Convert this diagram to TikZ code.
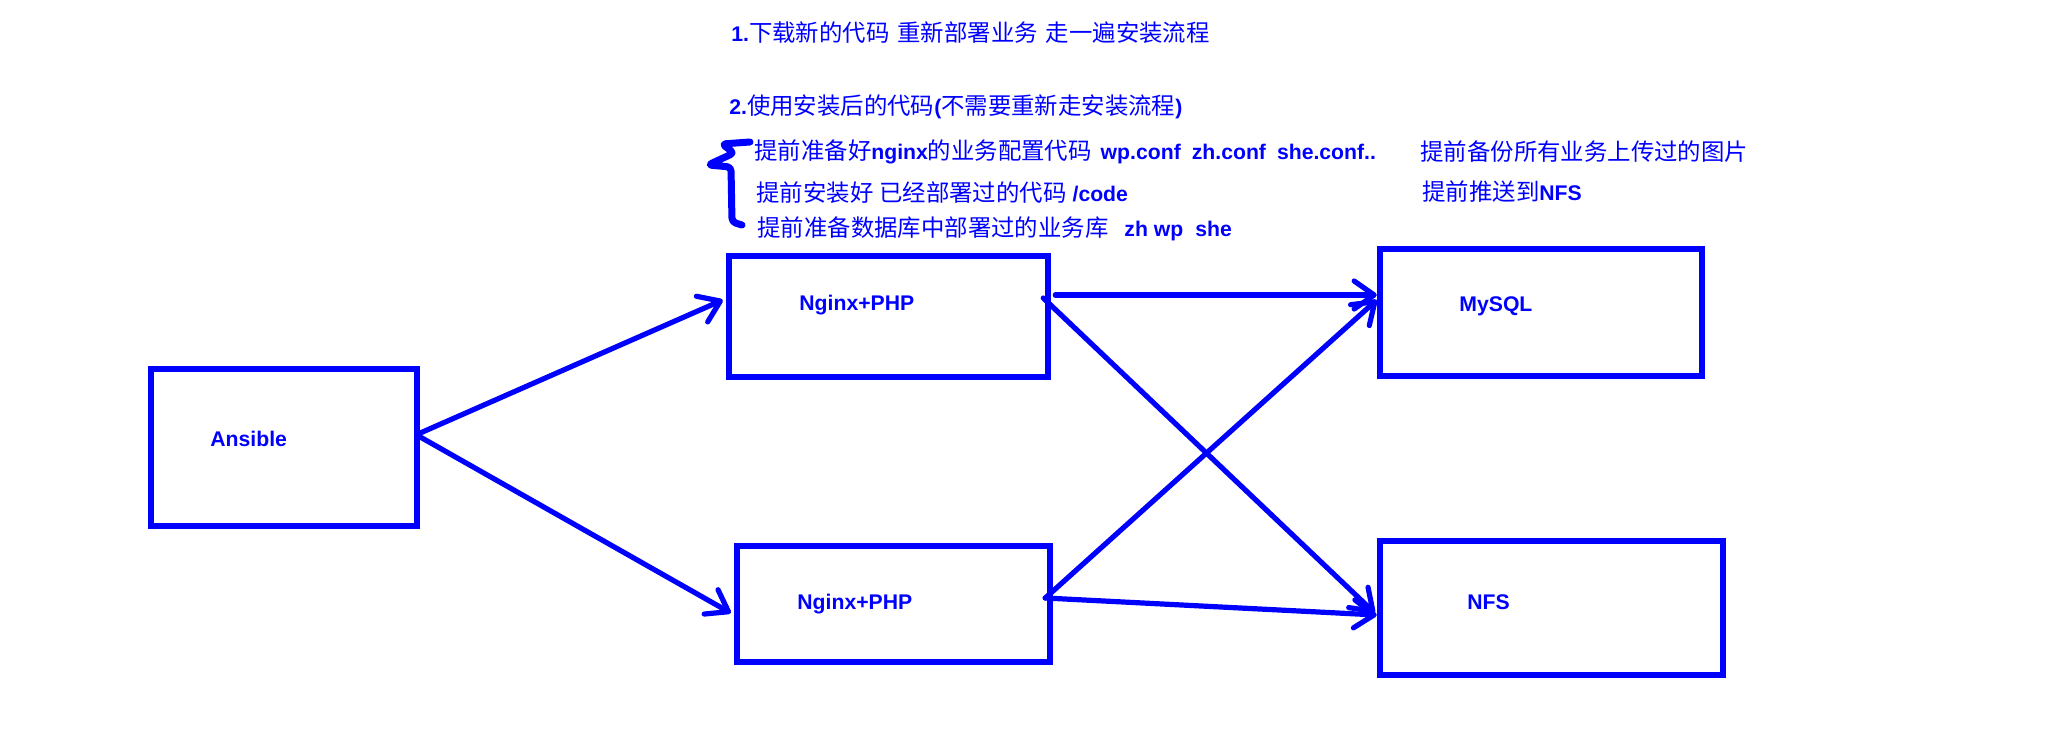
\documentclass[tikz,border=0pt]{standalone}
\usepackage{fontspec}
\setmainfont{Liberation Sans}
\newfontfamily\cjkf{Noto Sans CJK SC}
\usetikzlibrary{arrows.meta}
\definecolor{ink}{RGB}{0,0,255}
\newcommand{\cj}[1]{{\cjkf\mdseries\fontsize{11.7pt}{13pt}\selectfont #1}}
\begin{document}
\begin{tikzpicture}[x=0.5pt,y=-0.5pt,
  box/.style={draw=ink, line width=3.25pt, inner sep=0pt},
  lbl/.style={text=ink, font=\bfseries\fontsize{10.6pt}{12pt}\selectfont, anchor=west, inner sep=0pt},
  conn/.style={draw=ink, line width=2.6pt, line cap=round, line join=round,
     -{Straight Barb[length=10pt,width=14pt,round]}}]
\fill[white] (0,0) rectangle (2062,739);
\useasboundingbox (0,0) rectangle (2062,739);

% boxes
\node[box, minimum width=133pt,   minimum height=78.5pt] (ans)   at (284,447.5) {};
\node[box, minimum width=159.5pt, minimum height=60.5pt] (ng1)   at (888.5,316.5) {};
\node[box, minimum width=156.5pt, minimum height=58pt]   (ng2)   at (893.5,604) {};
\node[box, minimum width=161pt,   minimum height=63.5pt] (mysql) at (1541,312.5) {};
\node[box, minimum width=171.5pt, minimum height=67pt]   (nfs)   at (1551.5,608) {};

% box labels
\node[lbl] (lans) at (210,439) {Ansible};
\node[lbl] (lng1) at (799,305) {Nginx+PHP};
\node[lbl] (lng2) at (797,604) {Nginx+PHP};
\node[lbl] (lmy)  at (1459,306) {MySQL};
\node[lbl] (lnfs) at (1467,602) {NFS};

% connectors
\draw[conn] ([yshift=7.25pt]ans.east) -- ([xshift=-1.5pt,yshift=8.25pt]ng1.west);
\draw[conn] ([yshift=5.25pt]ans.east) -- ([xshift=-1.5pt,yshift=-4.5pt]ng2.west);
\draw[conn] ([xshift=2pt,yshift=10.75pt]ng1.east) -- ([yshift=8.75pt]mysql.west);
\draw[conn] ([xshift=-4pt,yshift=9.25pt]ng1.east) -- ([xshift=-1pt,yshift=-2.5pt]nfs.west);
\draw[conn] ([xshift=-4pt,yshift=3pt]ng2.east) -- ([yshift=6.25pt]mysql.west);
\draw[conn] ([xshift=-4pt,yshift=3pt]ng2.east) -- ([yshift=-3.5pt]nfs.west);

% texts
\node[lbl] (t1) at (731,33) {1.\cj{下载新的代码}\hspace{4pt}\cj{重新部署业务}\hspace{4pt}\cj{走一遍安装流程}};
\node[lbl] (t2) at (729,107) {2.\cj{使用安装后的代码}(\cj{不需要重新走安装流程})};
\node[lbl] (t3) at (754,152) {\cj{提前准备好}nginx\cj{的业务配置代码}\hspace{4.5pt}wp.conf\hspace{5.5pt}zh.conf\hspace{5.5pt}she.conf..};
\node[lbl] (t4) at (756,193) {\cj{提前安装好}\hspace{3pt}\cj{已经部署过的代码}\hspace{3pt}/code};
\node[lbl] (t5) at (757,229) {\cj{提前准备数据库中部署过的业务库}\hspace{8pt}zh wp\hspace{6pt}she};
\node[lbl] (r1) at (1420,152) {\cj{提前备份所有业务上传过的图片}};
\node[lbl] (r2) at (1422,192) {\cj{提前推送到}NFS};

% hand-drawn brace
\draw[ink, line width=3.5pt, line cap=round, line join=round, rounded corners=2pt]
  (750,142) -- (722,144) -- (734,153) -- (708,165) -- (731,167) -- (732,222) -- (742,225);
\end{tikzpicture}
\end{document}
